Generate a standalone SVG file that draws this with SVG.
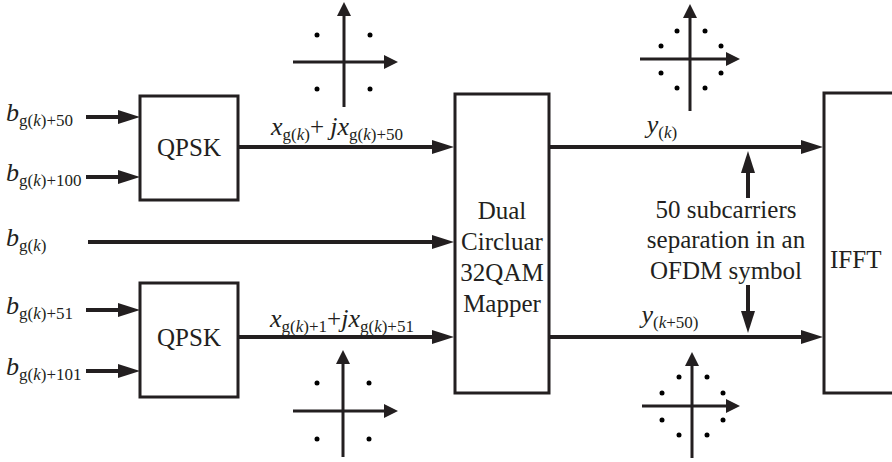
<svg xmlns="http://www.w3.org/2000/svg" width="892" height="462" viewBox="0 0 892 462">
<style>
text{font-family:"Liberation Serif","Times New Roman",serif;fill:#231f20}
.m{font-size:25px}
.v{font-size:26px;font-style:italic}
.it{font-style:italic}
.s{font-size:17px}
.box{fill:#fff;stroke:#231f20;stroke-width:3}
.ln{stroke:#231f20;stroke-width:4;fill:none}
.ax{stroke:#231f20;stroke-width:3;fill:none}
.dot{fill:#000}
</style>
<defs>
<marker id="ah" markerUnits="userSpaceOnUse" markerWidth="22" markerHeight="14" refX="12" refY="7" orient="auto">
<path d="M0,0 L22,7 L0,14 z" fill="#231f20"/>
</marker>
<marker id="sa" markerUnits="userSpaceOnUse" markerWidth="14" markerHeight="14" refX="8" refY="7" orient="auto">
<path d="M0,0 L14,7 L0,14 z" fill="#231f20"/>
</marker>
</defs>

<g id="connectors">
<line class="ln" x1="86" y1="117" x2="130" y2="117" marker-end="url(#ah)"/>
<line class="ln" x1="86" y1="177" x2="130" y2="177" marker-end="url(#ah)"/>
<line class="ln" x1="86" y1="310" x2="130" y2="310" marker-end="url(#ah)"/>
<line class="ln" x1="86" y1="371" x2="130" y2="371" marker-end="url(#ah)"/>
<line class="ln" x1="88" y1="242" x2="444" y2="242" marker-end="url(#ah)"/>
<line class="ln" x1="238" y1="147" x2="444" y2="147" marker-end="url(#ah)"/>
<line class="ln" x1="238" y1="337" x2="444" y2="337" marker-end="url(#ah)"/>
<line class="ln" x1="549" y1="147" x2="813" y2="147" marker-end="url(#ah)"/>
<line class="ln" x1="549" y1="337" x2="813" y2="337" marker-end="url(#ah)"/>
<line class="ln" x1="748" y1="198" x2="748" y2="161" marker-end="url(#ah)"/>
<line class="ln" x1="748" y1="285" x2="748" y2="323" marker-end="url(#ah)"/>
</g>

<g id="qpsk1">
<rect class="box" x="140" y="96" width="98" height="104"/>
<text class="m" x="189" y="156" text-anchor="middle">QPSK</text>
</g>
<g id="qpsk2">
<rect class="box" x="140" y="283" width="98" height="114"/>
<text class="m" x="189" y="346" text-anchor="middle">QPSK</text>
</g>
<g id="mapper">
<rect class="box" x="455" y="94" width="94" height="299"/>
<text class="m" text-anchor="middle"><tspan x="502" y="219">Dual</tspan><tspan x="502" y="250">Circluar</tspan><tspan x="502" y="281">32QAM</tspan><tspan x="502" y="312">Mapper</tspan></text>
</g>
<g id="ifft">
<rect class="box" x="824" y="93" width="80" height="300"/>
<text class="m" x="830" y="268">IFFT</text>
</g>

<g id="inputs">
<text x="6" y="121"><tspan class="v">b</tspan><tspan class="s" dy="5">g(</tspan><tspan class="s it">k</tspan><tspan class="s">)+50</tspan></text>
<text x="6" y="181"><tspan class="v">b</tspan><tspan class="s" dy="5">g(</tspan><tspan class="s it">k</tspan><tspan class="s">)+100</tspan></text>
<text x="6" y="246"><tspan class="v">b</tspan><tspan class="s" dy="5">g(</tspan><tspan class="s it">k</tspan><tspan class="s">)</tspan></text>
<text x="6" y="314"><tspan class="v">b</tspan><tspan class="s" dy="5">g(</tspan><tspan class="s it">k</tspan><tspan class="s">)+51</tspan></text>
<text x="6" y="375"><tspan class="v">b</tspan><tspan class="s" dy="5">g(</tspan><tspan class="s it">k</tspan><tspan class="s">)+101</tspan></text>
</g>

<g id="edge-labels">
<text x="337" y="135" text-anchor="middle"><tspan class="v">x</tspan><tspan class="s" dy="5">g(</tspan><tspan class="s it">k</tspan><tspan class="s">)</tspan><tspan class="m" dy="-5">+ </tspan><tspan class="v">jx</tspan><tspan class="s" dy="5">g(</tspan><tspan class="s it">k</tspan><tspan class="s">)+50</tspan></text>
<text x="342" y="327" text-anchor="middle"><tspan class="v">x</tspan><tspan class="s" dy="5">g(</tspan><tspan class="s it">k</tspan><tspan class="s">)+1</tspan><tspan class="m" dy="-5">+</tspan><tspan class="v">jx</tspan><tspan class="s" dy="5">g(</tspan><tspan class="s it">k</tspan><tspan class="s">)+51</tspan></text>
<text x="662" y="133" text-anchor="middle"><tspan class="v">y</tspan><tspan class="s" dy="5">(</tspan><tspan class="s it">k</tspan><tspan class="s">)</tspan></text>
<text x="670" y="323" text-anchor="middle"><tspan class="v">y</tspan><tspan class="s" dy="5">(</tspan><tspan class="s it">k</tspan><tspan class="s">+50)</tspan></text>
<text class="m" text-anchor="middle"><tspan x="726" y="218">50 subcarriers</tspan><tspan x="726" y="248">separation in an</tspan><tspan x="726" y="279">OFDM symbol</tspan></text>
</g>

<g id="const-qpsk-top">
<line class="ax" x1="344" y1="107" x2="344" y2="8" marker-end="url(#sa)"/>
<line class="ax" x1="293" y1="62" x2="392" y2="62" marker-end="url(#sa)"/>
<circle class="dot" cx="317" cy="35" r="2.5"/><circle class="dot" cx="370" cy="35" r="2.5"/>
<circle class="dot" cx="317" cy="89" r="2.5"/><circle class="dot" cx="370" cy="89" r="2.5"/>
</g>
<g id="const-qpsk-bottom">
<line class="ax" x1="343" y1="457" x2="343" y2="356" marker-end="url(#sa)"/>
<line class="ax" x1="293" y1="411" x2="392" y2="411" marker-end="url(#sa)"/>
<circle class="dot" cx="317" cy="383" r="2.5"/><circle class="dot" cx="369" cy="383" r="2.5"/>
<circle class="dot" cx="317" cy="439" r="2.5"/><circle class="dot" cx="369" cy="439" r="2.5"/>
</g>
<g id="const-8-top">
<line class="ax" x1="690" y1="111" x2="690" y2="10" marker-end="url(#sa)"/>
<line class="ax" x1="640" y1="59" x2="734" y2="59" marker-end="url(#sa)"/>
<circle class="dot" cx="677" cy="31" r="2.5"/><circle class="dot" cx="705" cy="31" r="2.5"/>
<circle class="dot" cx="661" cy="46" r="2.5"/><circle class="dot" cx="721" cy="46" r="2.5"/>
<circle class="dot" cx="661" cy="73" r="2.5"/><circle class="dot" cx="721" cy="73" r="2.5"/>
<circle class="dot" cx="677" cy="88" r="2.5"/><circle class="dot" cx="705" cy="88" r="2.5"/>
</g>
<g id="const-8-bottom">
<line class="ax" x1="692" y1="458" x2="692" y2="358" marker-end="url(#sa)"/>
<line class="ax" x1="642" y1="406" x2="734" y2="406" marker-end="url(#sa)"/>
<circle class="dot" cx="679" cy="377" r="2.5"/><circle class="dot" cx="707" cy="377" r="2.5"/>
<circle class="dot" cx="662" cy="393" r="2.5"/><circle class="dot" cx="723" cy="393" r="2.5"/>
<circle class="dot" cx="662" cy="420" r="2.5"/><circle class="dot" cx="723" cy="420" r="2.5"/>
<circle class="dot" cx="679" cy="435" r="2.5"/><circle class="dot" cx="707" cy="435" r="2.5"/>
</g>
</svg>
